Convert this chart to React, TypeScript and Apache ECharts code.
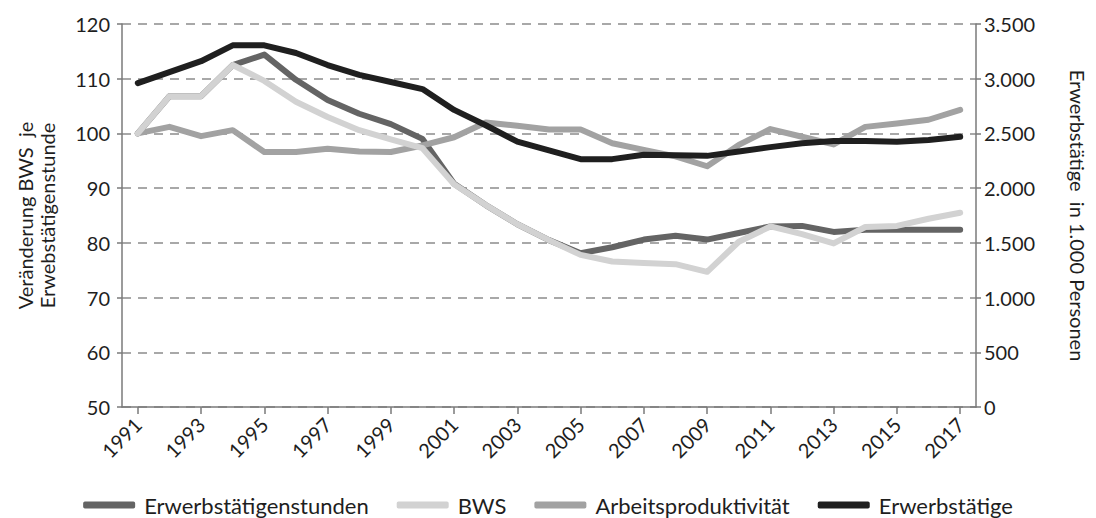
import React, { useEffect, useRef } from "react";
import * as echarts from "echarts";

const years = [
  "1991", "1992", "1993", "1994", "1995", "1996", "1997", "1998", "1999", "2000",
  "2001", "2002", "2003", "2004", "2005", "2006", "2007", "2008", "2009", "2010",
  "2011", "2012", "2013", "2014", "2015", "2016", "2017",
];

// left axis (index)
const erwerbstaetigenstunden = [
  100, 106.8, 106.8, 112.5, 114.4, 109.8, 106.1, 103.6, 101.7, 99.0,
  90.8, 86.9, 83.4, 80.5, 78.1, 79.2, 80.6, 81.3, 80.6, 81.8,
  83.0, 83.1, 82.0, 82.4, 82.4, 82.4, 82.4,
];
const bws = [
  100, 106.8, 106.8, 112.5, 109.6, 105.8, 103.0, 100.6, 98.9, 97.3,
  90.7, 86.9, 83.4, 80.5, 77.8, 76.6, 76.3, 76.1, 74.7, 80.2,
  83.0, 81.6, 79.9, 82.9, 83.1, 84.4, 85.5,
];
const arbeitsproduktivitaet = [
  100, 101.2, 99.5, 100.6, 96.6, 96.6, 97.2, 96.7, 96.6, 97.8,
  99.3, 102.0, 101.4, 100.7, 100.7, 98.2, 97.0, 95.8, 94.0, 97.9,
  100.8, 99.4, 98.0, 101.2, 101.8, 102.5, 104.3,
];
// right axis (in 1.000 Personen)
const erwerbstaetige = [
  2960, 3060, 3160, 3305, 3305, 3235, 3125, 3035, 2970, 2905,
  2715, 2575, 2425, 2345, 2265, 2265, 2305, 2300, 2295, 2335,
  2375, 2410, 2430, 2430, 2425, 2440, 2470,
];

const leftTicks = { min: 50, max: 120, interval: 10 };
const rightTicks = { min: 0, max: 3500, interval: 500 };

const FONT = "Lato";
const TXT = "#1e1e1e";
const AXIS = "#7a7a7a";

function fmtDe(v: number): string {
  if (v >= 1000) {
    const th = Math.floor(v / 1000);
    const rest = String(v % 1000).padStart(3, "0");
    return `${th}.${rest}`;
  }
  return String(v);
}

export default function App() {
  const ref = useRef<HTMLDivElement>(null);
  useEffect(() => {
    if (!ref.current) return;
    const chart = echarts.init(ref.current, undefined, { renderer: "svg" });
    const lineSeries = (name: string, data: number[], color: string, yAxisIndex: number) => ({
      name,
      type: "line",
      data,
      yAxisIndex,
      showSymbol: false,
      symbol: "none",
      lineStyle: { color, width: 6, cap: "round", join: "round" },
      itemStyle: { color },
      emphasis: { disabled: true },
    });
    chart.setOption({
      animation: false,
      backgroundColor: "#ffffff",
      textStyle: { fontFamily: FONT },
      grid: { left: 122, right: 112, top: 24, bottom: 111, containLabel: false },
      legend: {
        top: 494,
        left: "center",
        icon: "roundRect",
        itemWidth: 52,
        itemHeight: 7,
        itemGap: 28,
        padding: 0,
        data: ["Erwerbstätigenstunden", "BWS", "Arbeitsproduktivität", "Erwerbstätige"],
        textStyle: { fontFamily: FONT, fontSize: 22, color: TXT, padding: [0, 0, 0, 4] },
      },
      xAxis: {
        type: "category",
        data: years,
        boundaryGap: true,
        axisLine: { show: true, lineStyle: { color: AXIS, width: 1.5 } },
        axisTick: { show: true, interval: 1, alignWithLabel: true, length: 7, lineStyle: { color: AXIS, width: 1.5 } },
        axisLabel: {
          interval: 1,
          rotate: 45,
          margin: 14,
          fontFamily: FONT,
          fontSize: 20,
          color: TXT,
        },
        splitLine: { show: false },
      },
      yAxis: [
        {
          type: "value",
          position: "left",
          min: leftTicks.min,
          max: leftTicks.max,
          interval: leftTicks.interval,
          name: "Veränderung BWS \u00a0je\nErwebstätigenstunde",
          nameLocation: "middle",
          nameGap: 64,
          nameRotate: 90,
          nameTextStyle: { fontFamily: FONT, fontSize: 20, color: TXT, lineHeight: 22 },
          axisLine: { show: true, lineStyle: { color: AXIS, width: 1.5 } },
          axisTick: { show: true, length: 5, lineStyle: { color: AXIS, width: 1.5 } },
          axisLabel: { fontFamily: FONT, fontSize: 20, color: TXT, margin: 12 },
          splitLine: { show: true, lineStyle: { color: "#8c8c8c", width: 1.5, type: [9, 7] } },
        },
        {
          type: "value",
          position: "right",
          min: rightTicks.min,
          max: rightTicks.max,
          interval: rightTicks.interval,
          name: "Erwerbstätige \u00a0in 1.000 Personen",
          nameLocation: "middle",
          nameGap: 92,
          nameRotate: -90,
          nameTextStyle: { fontFamily: FONT, fontSize: 20, color: TXT },
          axisLine: { show: true, lineStyle: { color: AXIS, width: 1.5 } },
          axisTick: { show: true, length: 5, lineStyle: { color: AXIS, width: 1.5 } },
          axisLabel: { fontFamily: FONT, fontSize: 20, color: TXT, margin: 8, formatter: (v: number) => fmtDe(v) },
          splitLine: { show: false },
        },
      ],
      series: [
        lineSeries("Erwerbstätigenstunden", erwerbstaetigenstunden, "#646464", 0),
        lineSeries("Arbeitsproduktivität", arbeitsproduktivitaet, "#a2a2a2", 0),
        lineSeries("BWS", bws, "#d2d2d2", 0),
        lineSeries("Erwerbstätige", erwerbstaetige, "#1f1f1f", 1),
      ],
    });
    return () => chart.dispose();
  }, []);
  return (
    <div
      ref={ref}
      style={{ position: "fixed", left: 0, top: 0, width: 1096, height: 518 }}
    />
  );
}
